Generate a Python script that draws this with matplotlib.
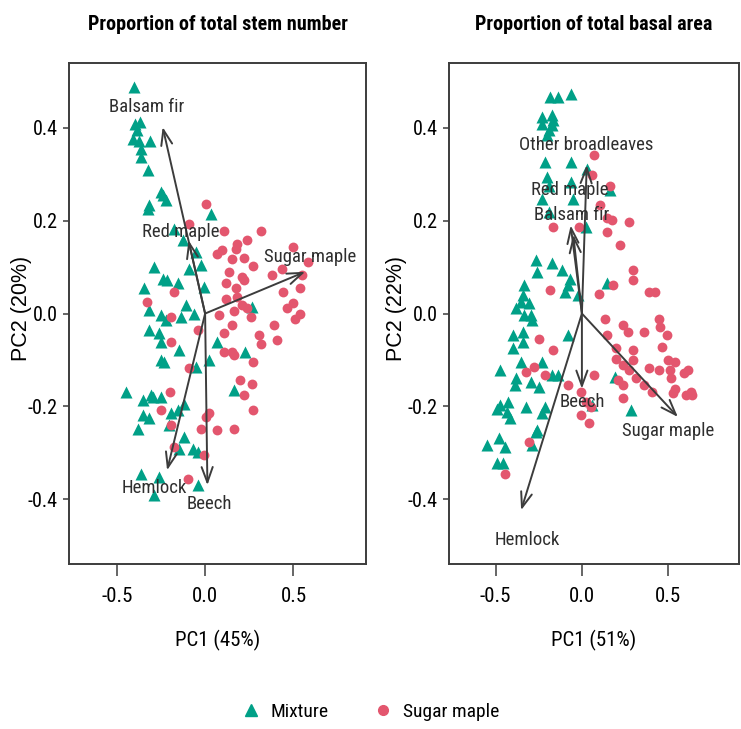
import numpy as np
import matplotlib
matplotlib.use("Agg")
import matplotlib.pyplot as plt
from matplotlib.lines import Line2D

plt.rcParams['font.family'] = ['Roboto Condensed', 'Liberation Sans Narrow', 'Liberation Sans', 'DejaVu Sans']

# ---- panel 1: proportion of total stem number ----
stem_mix_x = [-0.403, -0.399, -0.371, -0.384, -0.408, -0.376, -0.309, -0.365, -0.361, -0.324,
              -0.249, -0.240, -0.221, -0.315, -0.324, 0.032, -0.174, -0.127, -0.052, -0.090,
              -0.024, -0.290, -0.240, -0.215, -0.152, -0.009, -0.343, -0.109, -0.062, -0.315,
              -0.249, -0.221, -0.137, 0.266, -0.315, -0.258, -0.249, -0.146, 0.069, 0.228,
              0.022, -0.249, -0.230, -0.052, -0.446, -0.352, -0.305, -0.249, -0.296, 0.163,
              -0.352, -0.315, -0.193, -0.155, -0.118, -0.380, -0.202, -0.118, -0.071, -0.146,
              -0.043, -0.365, -0.258, -0.287, -0.043]
stem_mix_y = [0.488, 0.409, 0.413, 0.395, 0.377, 0.373, 0.371, 0.355, 0.338, 0.309,
              0.262, 0.255, 0.244, 0.233, 0.226, 0.215, 0.183, 0.158, 0.133, 0.097,
              0.104, 0.101, 0.075, 0.072, 0.065, 0.057, 0.055, 0.018, 0.000, 0.007,
              -0.004, -0.014, -0.007, 0.014, -0.036, -0.043, -0.061, -0.079, -0.061, -0.083,
              -0.101, -0.101, -0.104, -0.115, -0.169, -0.187, -0.176, -0.180, -0.180, -0.165,
              -0.219, -0.226, -0.215, -0.208, -0.194, -0.248, -0.241, -0.266, -0.291, -0.291,
              -0.298, -0.345, -0.352, -0.391, -0.370]
stem_sm_x = [0.004, -0.090, 0.107, 0.316, 0.238, 0.182, 0.069, 0.097, 0.154, 0.172,
             0.219, 0.272, 0.135, 0.210, 0.219, 0.378, 0.500, 0.584, 0.434, 0.116,
             0.172, -0.174, -0.328, 0.116, 0.182, 0.210, 0.163, 0.238, 0.440, 0.537,
             0.547, 0.500, 0.463, 0.537, 0.509, -0.193, 0.079, -0.043, 0.154, 0.257,
             0.388, 0.303, 0.107, 0.318, 0.406, -0.193, 0.107, 0.154, 0.163, 0.272,
             -0.090, 0.200, 0.266, 0.219, -0.197, 0.272, -0.249, 0.022, 0.004, -0.193,
             -0.024, 0.069, 0.163, -0.174, -0.006, -0.094]
stem_sm_y = [0.236, 0.194, 0.177, 0.177, 0.158, 0.151, 0.129, 0.136, 0.118, 0.140,
             0.120, 0.103, 0.090, 0.079, 0.072, 0.083, 0.144, 0.111, 0.097, 0.065,
             0.054, 0.047, 0.025, 0.032, 0.036, 0.018, 0.005, 0.011, 0.047, 0.054,
             0.083, 0.022, 0.011, 0.000, -0.011, -0.007, -0.004, -0.036, -0.025, -0.007,
             -0.025, -0.047, -0.043, -0.065, -0.057, -0.061, -0.083, -0.083, -0.090, -0.104,
             -0.118, -0.144, -0.151, -0.176, -0.169, -0.208, -0.208, -0.215, -0.223, -0.241,
             -0.248, -0.251, -0.248, -0.287, -0.305, -0.357]
stem_species = ['Balsam fir', 'Red maple', 'Sugar maple', 'Hemlock', 'Beech']
stem_load_x = [-0.240, -0.094, 0.566, -0.215, 0.013]
stem_load_y = [0.402, 0.158, 0.090, -0.338, -0.370]
stem_lab_x = [-0.333, -0.140, 0.594, -0.290, 0.022]
stem_lab_y = [0.445, 0.176, 0.122, -0.377, -0.410]

# ---- panel 2: proportion of total basal area ----
ba_mix_x = [-0.184, -0.137, -0.062, -0.230, -0.174, -0.165, -0.230, -0.174, -0.193, -0.202,
            -0.212, -0.062, -0.202, -0.193, -0.062, 0.032, 0.163, -0.230, -0.052, 0.022,
            -0.193, -0.268, -0.258, -0.174, -0.114, -0.071, -0.081, -0.099, -0.024, 0.144,
            -0.333, -0.343, -0.352, -0.305, -0.380, -0.296, -0.333, -0.287, -0.399, -0.343,
            -0.399, -0.081, -0.343, -0.474, -0.352, -0.380, -0.390, -0.296, -0.249, -0.230,
            -0.174, -0.137, 0.191, -0.474, -0.427, -0.493, -0.436, -0.418, -0.324, -0.212,
            -0.230, 0.060, 0.285, -0.549, -0.483, -0.446, -0.268, -0.287, -0.258, -0.493,
            -0.455]
ba_mix_y = [0.467, 0.467, 0.474, 0.424, 0.427, 0.417, 0.409, 0.406, 0.395, 0.384,
            0.327, 0.327, 0.294, 0.276, 0.284, 0.312, 0.266, 0.248, 0.248, 0.187,
            0.219, 0.115, 0.090, 0.108, 0.093, 0.075, 0.061, 0.047, 0.039, 0.065,
            0.061, 0.039, 0.025, 0.022, 0.011, -0.004, -0.004, -0.014, -0.047, -0.039,
            -0.075, -0.047, -0.061, -0.122, -0.104, -0.140, -0.154, -0.147, -0.158, -0.104,
            -0.133, -0.133, -0.136, -0.197, -0.190, -0.205, -0.212, -0.226, -0.201, -0.201,
            -0.215, -0.197, -0.208, -0.284, -0.269, -0.287, -0.255, -0.284, -0.251, -0.323,
            -0.323]
ba_sm_x = [0.069, 0.060, 0.163, 0.107, -0.015, -0.165, 0.144, 0.172, 0.275, 0.144,
           0.219, 0.294, 0.294, 0.182, 0.097, -0.184, 0.388, 0.425, 0.135, 0.238,
           0.266, 0.360, 0.444, 0.453, 0.491, -0.249, 0.144, -0.165, 0.200, 0.294,
           0.294, 0.463, 0.200, 0.238, 0.275, 0.388, 0.444, 0.500, 0.537, 0.509,
           0.612, 0.594, -0.324, -0.277, -0.212, -0.081, 0.069, 0.210, 0.238, 0.313,
           0.360, 0.406, 0.519, 0.537, 0.528, 0.631, 0.640, 0.603, -0.006, 0.022,
           0.051, -0.006, 0.041, 0.238, -0.309, -0.446]
ba_sm_y = [0.341, 0.298, 0.276, 0.233, 0.187, 0.187, 0.205, 0.201, 0.197, 0.176,
           0.147, 0.093, 0.072, 0.061, 0.043, 0.050, 0.047, 0.047, -0.011, -0.025,
           -0.039, -0.039, -0.011, -0.029, -0.047, -0.054, -0.047, -0.079, -0.075, -0.079,
           -0.101, -0.072, -0.097, -0.111, -0.122, -0.118, -0.122, -0.101, -0.104, -0.122,
           -0.122, -0.129, -0.126, -0.115, -0.133, -0.154, -0.133, -0.144, -0.154, -0.140,
           -0.154, -0.169, -0.140, -0.162, -0.172, -0.169, -0.176, -0.176, -0.169, -0.190,
           -0.201, -0.219, -0.237, -0.183, -0.276, -0.345]
ba_species = ['Other broadleaves', 'Red maple', 'Balsam fir', 'Beech', 'Sugar maple', 'Hemlock']
ba_load_x = [0.028, -0.065, -0.050, 0.000, 0.556, -0.352]
ba_load_y = [0.320, 0.190, 0.170, -0.162, -0.223, -0.424]
ba_lab_x = [0.026, -0.071, -0.062, 0.004, 0.500, -0.315]
ba_lab_y = [0.364, 0.266, 0.212, -0.190, -0.253, -0.488]

teal = '#00A087'
pink = '#E3566E'
grey = '#3C3C3C'

fig = plt.figure(figsize=(7.41, 7.29), dpi=100)
ax1 = fig.add_axes([0.0931, 0.2263, 0.4008, 0.6872])
ax2 = fig.add_axes([0.6059, 0.2263, 0.3914, 0.6872])


def biplot(ax, mx, my, sx, sy, names, lx, ly, tx, ty, title, xlab, ylab, ylab_x):
    ax.scatter(mx, my, marker='^', s=75, color=teal, linewidths=0, zorder=2)
    ax.scatter(sx, sy, marker='o', s=50, color=pink, linewidths=0, zorder=2)
    for i in range(len(names)):
        ax.annotate('', xy=(lx[i], ly[i]), xytext=(0, 0),
                    arrowprops=dict(arrowstyle='->,head_length=1.1,head_width=0.4',
                                    color=grey, lw=1.4, shrinkA=0, shrinkB=0), zorder=3)
        ax.text(tx[i], ty[i], names[i], ha='center', va='center', fontsize=13.5,
                color='#2E2E2E', zorder=4)
    ax.set_xlim(-0.77, 0.91)
    ax.set_ylim(-0.54, 0.54)
    ax.set_xticks([-0.5, 0.0, 0.5])
    ax.set_xticklabels(['-0.5', '0.0', '0.5'])
    ax.set_yticks([-0.4, -0.2, 0.0, 0.2, 0.4])
    ax.set_yticklabels(['-0.4', '-0.2', '0.0', '0.2', '0.4'])
    ax.tick_params(axis='x', length=8.5, width=1.1, color=grey, labelsize=15, pad=8)
    ax.tick_params(axis='y', length=4, width=1.1, color=grey, labelsize=14.5, pad=4)
    for sp in ax.spines.values():
        sp.set_color(grey)
        sp.set_linewidth(1.4)
    ax.set_title(title, fontsize=14.5, fontweight='bold', pad=24)
    ax.set_xlabel(xlab, fontsize=15, labelpad=17)
    ax.set_ylabel(ylab, fontsize=15.5, family=['Liberation Sans', 'DejaVu Sans'])
    ax.yaxis.set_label_coords(ylab_x, 0.51)


biplot(ax1, stem_mix_x, stem_mix_y, stem_sm_x, stem_sm_y, stem_species,
       stem_load_x, stem_load_y, stem_lab_x, stem_lab_y,
       'Proportion of total stem number', 'PC1 (45%)', 'PC2 (20%)', -0.125)
biplot(ax2, ba_mix_x, ba_mix_y, ba_sm_x, ba_sm_y, ba_species,
       ba_load_x, ba_load_y, ba_lab_x, ba_lab_y,
       'Proportion of total basal area', 'PC1 (51%)', 'PC2 (22%)', -0.145)

handles = [Line2D([], [], marker='^', color=teal, linestyle='', markersize=8),
           Line2D([], [], marker='o', color=pink, linestyle='', markersize=7)]
fig.legend(handles, ['Mixture', 'Sugar maple'], loc='center', bbox_to_anchor=(0.5, 0.023),
           ncol=2, frameon=False, fontsize=14, handlelength=1.0, handletextpad=0.5,
           columnspacing=2.3)

fig.savefig('out.png', dpi=100)
